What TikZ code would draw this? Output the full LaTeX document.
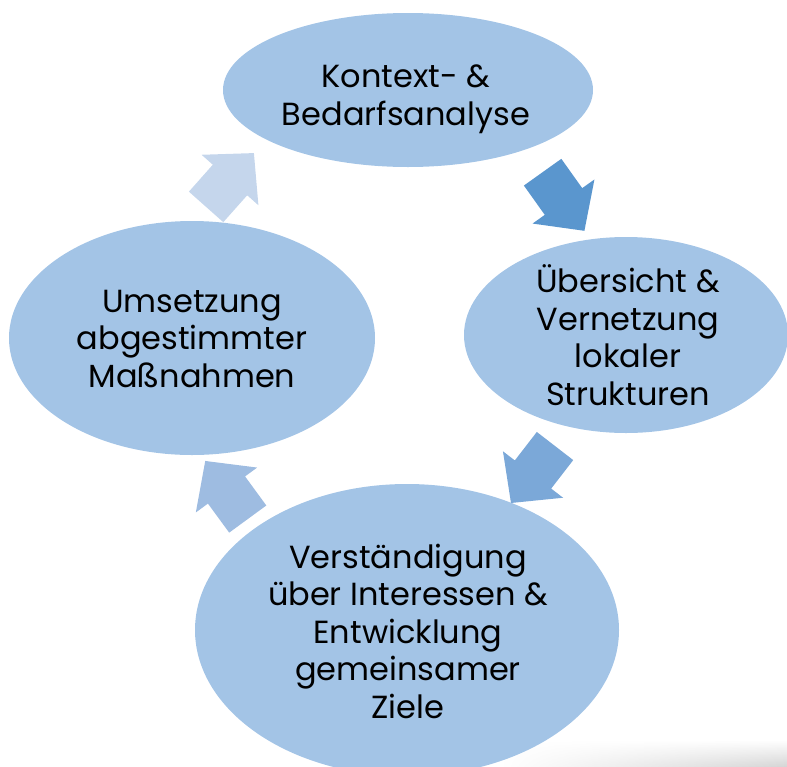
\documentclass[tikz,border=0pt]{standalone}
\usepackage{fontspec}
\setmainfont{Poppins}
\usetikzlibrary{shapes.geometric,fadings}
\definecolor{ellfill}{HTML}{A3C4E6}
\definecolor{arrA}{HTML}{5A96CE}
\definecolor{arrB}{HTML}{7BA8D8}
\definecolor{arrC}{HTML}{9EBCE1}
\definecolor{arrD}{HTML}{C5D6EC}
\tikzset{
  blockarrow/.pic={\fill[pic actions] (-36,-23) -- (0,-23) -- (0,-38) -- (36,0) -- (0,38) -- (0,23) -- (-36,23) -- cycle;}
}
\begin{document}
\begin{tikzpicture}[x=1pt,y=-1pt,
  phase/.style={ellipse, fill=ellfill, draw=none, inner sep=0pt},
  lbl/.style={align=center, font=\fontsize{32}{37.5}\selectfont, text=black, inner sep=0pt}]
\useasboundingbox (0,0) rectangle (787,766);
\shade[top color=white, bottom color=black!16, path fading=west] (500,740) rectangle (787,766);
\node[phase, minimum width=370pt, minimum height=154pt] (kontext) at (408,90) {};
\node[phase, minimum width=324pt, minimum height=196pt] (uebersicht) at (626,335) {};
\node[phase, minimum width=424pt, minimum height=292pt] (verst) at (407,630) {};
\node[phase, minimum width=366pt, minimum height=234pt] (umsetz) at (192,338) {};
\node[lbl] (tkontext) at (406,99) {Kontext- \&\\Bedarfsanalyse};
\node[lbl] (tuebersicht) at (628,335) {Übersicht \&\\Vernetzung\\lokaler\\Strukturen};
\node[lbl] (tverst) at (408,631) {Verständigung\\über Interessen \&\\Entwicklung\\gemeinsamer\\Ziele};
\node[lbl] (tumsetz) at (192,339) {Umsetzung\\abgestimmter\\Maßnahmen};
\pic[fill=arrA, rotate=-54.5] (a1) at (563.5,201.5) {blockarrow};
\pic[fill=arrB, rotate=-127.7] (a2) at (533,474.5) {blockarrow};
\pic[fill=arrC, rotate=126.2] (a3) at (226.5,490) {blockarrow};
\pic[fill=arrD, rotate=48.4] (a4) at (230,180) {blockarrow};
\end{tikzpicture}
\end{document}
